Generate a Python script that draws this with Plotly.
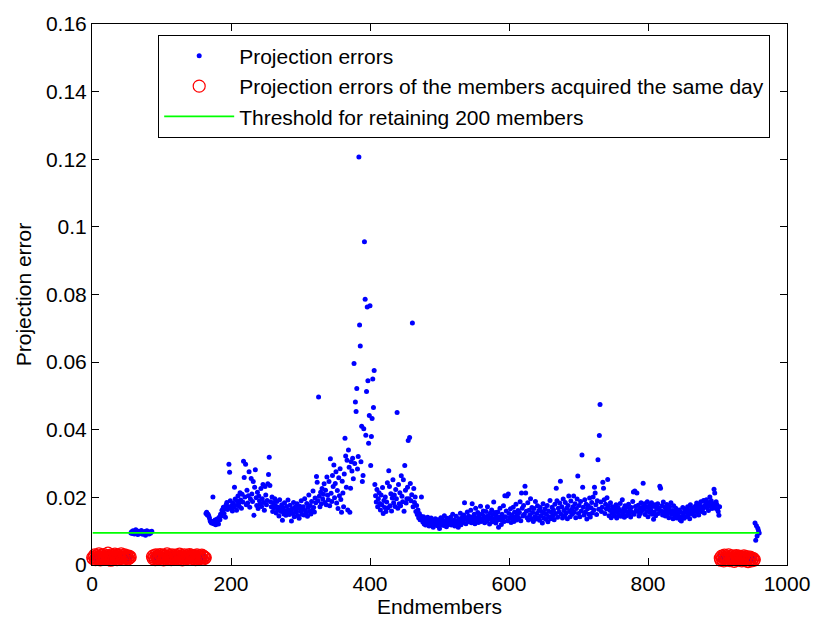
import plotly.graph_objects as go

# ---------------- data (projection errors, in units of 1e-4) ----------------
# endmembers 1-55 : acquired the same day
SAME_DAY_1 = [22, 18, 25, 30, 16, 21, 27, 19, 24, 33,
              20, 15, 26, 29, 22, 18, 31, 24, 20, 17,
              28, 23, 35, 19, 26, 21, 14, 30, 24, 22,
              27, 18, 32, 25, 20, 16, 29, 23, 26, 21,
              19, 33, 24, 28, 17, 22, 30, 25, 20, 27,
              23, 18, 26, 21, 24]
# endmembers 56-86
LOW_GROUP = [95, 98, 93, 101, 96, 92, 99, 104, 94, 97,
             90, 100, 95, 93, 98, 102, 96, 91, 97, 94,
             99, 88, 95, 101, 93, 96, 92, 98, 94, 97,
             100]
# endmembers 87-163 : acquired the same day
SAME_DAY_2 = [25, 19, 28, 22, 16, 30, 24, 20, 27, 18,
              23, 31, 17, 26, 21, 29, 15, 24, 20, 27,
              22, 33, 18, 25, 28, 19, 23, 16, 30, 21,
              26, 24, 18, 29, 22, 17, 27, 20, 25, 32,
              19, 23, 28, 15, 26, 21, 30, 24, 18, 22,
              27, 20, 25, 31, 17, 23, 29, 21, 26, 19,
              24, 28, 16, 22, 30, 20, 25, 18, 27, 23,
              21, 29, 17, 26, 24, 20, 22]
# endmembers 164-903
MAIN_GROUP = [
    152, 156, 148, 150, 145, 139, 131, 127, 124, 129,
    201, 122, 126, 133, 119, 128, 136, 130, 121, 141,
    134, 150, 145, 162, 158, 171, 152, 166, 141, 178,
    185, 164, 172, 298, 274, 190, 168, 176, 160, 183,
    171, 230, 195, 176, 162, 189, 204, 182, 173, 214,
    192, 168, 209, 186, 307, 259, 201, 298, 178, 221,
    183, 205, 276, 171, 195, 256, 210, 188, 247, 147,
    230, 282, 199, 176, 215, 167, 204, 190, 181, 226,
    173, 196, 238, 185, 162, 232, 207, 178, 191, 240,
    268, 319, 235, 187, 172, 201, 158, 183, 169, 196,
    175, 154, 188, 162, 171, 145, 193, 166, 158, 178,
    132, 169, 151, 184, 160, 147, 173, 156, 192, 163,
    149, 177, 158, 130, 166, 152, 185, 143, 171, 160,
    155, 181, 146, 168, 138, 174, 159, 190, 150, 165,
    172, 148, 196, 161, 153, 182, 144, 170, 207, 158,
    176, 151, 188, 163, 219, 170, 157, 198, 184, 262,
    245, 190, 497, 203, 172, 215, 181, 226, 195, 209,
    240, 185, 221, 178, 260, 206, 193, 247, 175, 314,
    212, 188, 265, 232, 296, 199, 241, 276, 183, 220,
    167, 258, 205, 285, 194, 156, 248, 213, 172, 269,
    375, 322, 230, 310, 163, 340, 289, 156, 227, 305,
    278, 316, 255, 596, 300, 482, 454, 522, 284, 321,
    1207, 710, 648, 305, 410, 247, 265, 403, 956, 786,
    384, 513, 763, 545, 360, 442, 767, 294, 380, 433,
    550, 466, 575, 238, 205, 186, 223, 172, 196, 214,
    182, 163, 207, 178, 229, 152, 191, 170, 201, 158,
    186, 243, 169, 279, 232, 175, 211, 160, 198, 252,
    184, 207, 173, 223, 196, 451, 168, 238, 181, 214,
    175, 264, 203, 187, 252, 159, 294, 221, 183, 196,
    230, 368, 196, 377, 241, 190, 208, 716, 172, 226,
    185, 201, 158, 176, 149, 163, 140, 152, 134, 145,
    201, 138, 127, 143, 121, 132, 118, 136, 125, 141,
    128, 115, 133, 122, 139, 119, 126, 112, 131, 124,
    137, 121, 129, 116, 134, 123, 108, 127, 140, 119,
    125, 132, 117, 146, 122, 130, 113, 138, 126, 120,
    135, 124, 141, 118, 129, 150, 122, 133, 115, 127,
    144, 121, 130, 112, 137, 125, 153, 119, 131, 142,
    126, 148, 184, 135, 122, 139, 157, 130, 145, 128,
    138, 162, 125, 181, 143, 131, 150, 122, 168, 140,
    133, 155, 126, 147, 138, 174, 129, 151, 136, 160,
    144, 125, 139, 158, 131, 172, 146, 135, 121, 153,
    140, 163, 128, 149, 186, 137, 155, 124, 145, 132,
    157, 112, 141, 168, 134, 120, 150, 138, 175, 129,
    205, 143, 160, 204, 131, 210, 152, 139, 166, 126,
    148, 137, 171, 129, 156, 142, 180, 133, 147, 161,
    138, 155, 187, 131, 213, 168, 145, 176, 150, 233,
    213, 159, 140, 184, 133, 162, 148, 196, 137, 170,
    155, 129, 167, 143, 188, 136, 152, 175, 140, 161,
    132, 170, 146, 158, 124, 181, 139, 153, 166, 135,
    149, 176, 128, 160, 142, 191, 137, 155, 171, 145,
    163, 134, 180, 152, 227, 190, 141, 168, 157, 183,
    248, 150, 172, 139, 195, 161, 146, 185, 153, 168,
    137, 176, 204, 158, 143, 189, 164, 150, 172, 204,
    156, 181, 140, 167, 195, 263, 152, 176, 143, 188,
    160, 325, 230, 171, 148, 193, 157, 180, 136, 166,
    175, 150, 198, 142, 169, 185, 154, 201, 163, 230,
    213, 178, 149, 190, 311, 165, 383, 475, 186, 158,
    171, 245, 227, 193, 152, 180, 166, 199, 253, 174,
    146, 162, 184, 140, 157, 172, 151, 168, 145, 160,
    178, 139, 155, 170, 148, 163, 182, 144, 158, 193,
    152, 167, 141, 175, 159, 146, 171, 155, 180, 149,
    163, 142, 170, 156, 188, 216, 150, 219, 173, 161,
    213, 158, 177, 145, 168, 152, 184, 160, 171, 242,
    166, 181, 149, 172, 158, 187, 143, 169, 176, 155,
    162, 184, 150, 173, 135, 157, 178, 146, 170, 165,
    181, 152, 168, 233, 227, 160, 175, 148, 186, 157,
    170, 145, 163, 179, 151, 166, 140, 172, 158, 184,
    149, 161, 137, 175, 155, 144, 168, 139, 160, 152,
    146, 163, 134, 157, 130, 142, 170, 151, 138, 159,
    165, 143, 156, 172, 148, 161, 137, 178, 153, 166,
    150, 169, 158, 145, 174, 162, 183, 155, 171, 148,
    179, 163, 187, 158, 172, 166, 191, 154, 176, 184,
    193, 169, 180, 161, 185, 201, 174, 190, 167, 182,
    176, 224, 213, 168, 187, 179, 164, 158, 147, 172,
]
# endmembers 904-953 : acquired the same day
SAME_DAY_3 = [20, 14, 26, 18, 23, 12, 29, 17, 21, 25,
              15, 22, 30, 19, 13, 24, 20, 27, 16, 22,
              11, 25, 18, 28, 14, 21, 19, 26, 15, 23,
              17, 12, 24, 20, 27, 13, 22, 16, 25, 18,
              10, 21, 15, 23, 19, 12, 17, 20, 14, 16]
# endmembers 954-960
END_GROUP = [124, 73, 116, 86, 109, 101, 95]

THRESHOLD = 0.0095
UNIT = 1e-4

X_TICKS = [0, 200, 400, 600, 800, 1000]
Y_TICKS = [0, 0.02, 0.04, 0.06, 0.08, 0.1, 0.12, 0.14, 0.16]
Y_TICK_TEXT = ["0", "0.02", "0.04", "0.06", "0.08", "0.1", "0.12", "0.14", "0.16"]

# ---------------- assemble ----------------
segments = [(SAME_DAY_1, True), (LOW_GROUP, False), (SAME_DAY_2, True),
            (MAIN_GROUP, False), (SAME_DAY_3, True), (END_GROUP, False)]
xs, ys, sx, sy = [], [], [], []
idx = 1
for vals, same in segments:
    for v in vals:
        xs.append(idx)
        ys.append(v * UNIT)
        if same:
            sx.append(idx)
            sy.append(v * UNIT)
        idx += 1

FONT = "Liberation Sans, Arial, Helvetica, sans-serif"

fig = go.Figure()
fig.add_trace(go.Scatter(
    x=xs, y=ys, mode="markers", name="Projection errors",
    marker=dict(color="#0000FF", size=5, line=dict(width=0)),
    legendgroup="a"))
fig.add_trace(go.Scatter(
    x=sx, y=sy, mode="markers", cliponaxis=False,
    name="Projection errors of the members acquired the same day",
    marker=dict(symbol="circle-open", color="#FF0000", size=12,
                line=dict(width=1.2, color="#FF0000")),
    legendgroup="b"))
fig.add_trace(go.Scatter(
    x=[xs[0], xs[-1]], y=[THRESHOLD, THRESHOLD], mode="lines",
    name="Threshold for retaining 200 members",
    line=dict(color="#00FF00", width=1.8),
    legendgroup="c"))

axis_common = dict(
    showline=True, linecolor="black", linewidth=1, mirror="ticks",
    ticks="inside", ticklen=7, tickcolor="black", tickwidth=1,
    showgrid=False, zeroline=False, ticklabeloverflow="allow",
    tickfont=dict(family=FONT, size=21, color="black"),
)

fig.update_layout(
    width=822, height=626,
    margin=dict(l=92, r=16, t=17, b=53),
    paper_bgcolor="white", plot_bgcolor="white",
    font=dict(family=FONT, size=21, color="black"),
    showlegend=True,
    legend=dict(
        x=(160 - 92) / 714, y=(573 - 28) / 556,
        xanchor="left", yanchor="top",
        bgcolor="white", bordercolor="black", borderwidth=1,
        font=dict(family=FONT, size=21, color="black"),
        itemwidth=70, tracegroupgap=0,
    ),
    xaxis=dict(range=[0, 1000], tickvals=X_TICKS,
               ticktext=[str(t) for t in X_TICKS],
               title=dict(text="Endmembers", font=dict(family=FONT, size=21), standoff=4),
               **axis_common),
    yaxis=dict(range=[0, 0.16], tickvals=Y_TICKS, ticktext=Y_TICK_TEXT,
               title=dict(text="Projection error", font=dict(family=FONT, size=21), standoff=8),
               **axis_common),
)

fig.write_html("out.html")
